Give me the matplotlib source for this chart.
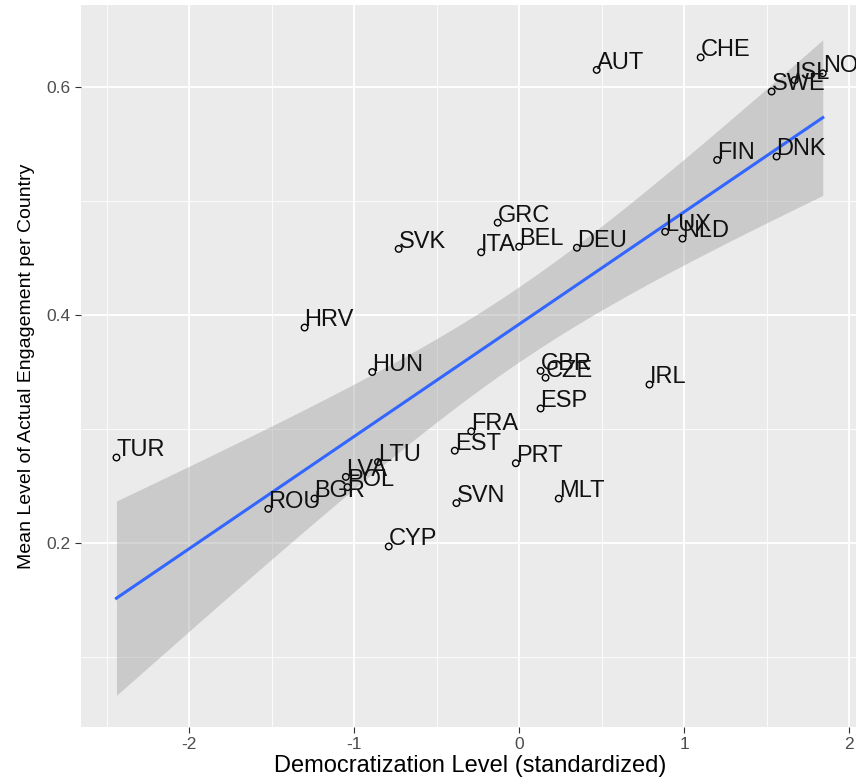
import matplotlib
matplotlib.use("Agg")
import matplotlib.pyplot as plt
import numpy as np

# country labels and values
countries = ["TUR", "ROU", "BGR", "LVA", "POL", "LTU", "HUN", "HRV", "SVK", "ITA",
             "GRC", "BEL", "DEU", "AUT", "CHE", "SWE", "ISL", "NOR", "FIN", "DNK",
             "LUX", "NLD", "GBR", "CZE", "ESP", "IRL", "FRA", "EST", "PRT", "SVN",
             "MLT", "CYP"]
democ = [-2.44, -1.52, -1.24, -1.05, -1.04, -0.855, -0.89, -1.30, -0.73, -0.23,
         -0.13, 0.00, 0.35, 0.47, 1.10, 1.53, 1.67, 1.84, 1.20, 1.56,
         0.885, 0.99, 0.13, 0.16, 0.13, 0.79, -0.29, -0.39, -0.02, -0.38,
         0.24, -0.79]
engage = [0.275, 0.230, 0.239, 0.258, 0.249, 0.271, 0.350, 0.389, 0.458, 0.455,
          0.481, 0.460, 0.459, 0.615, 0.626, 0.596, 0.606, 0.612, 0.536, 0.539,
          0.473, 0.467, 0.351, 0.345, 0.318, 0.339, 0.298, 0.281, 0.270, 0.235,
          0.239, 0.197]

T_975 = 2.042  # t quantile, df = 30

x = np.array(democ)
y = np.array(engage)

# linear fit with 95% confidence band (like geom_smooth(method="lm"))
b, a = np.polyfit(x, y, 1)
n = len(x)
resid = y - (a + b * x)
s = np.sqrt(np.sum(resid ** 2) / (n - 2))
sxx = np.sum((x - x.mean()) ** 2)
xs = np.linspace(x.min(), x.max(), 80)
fit = a + b * xs
se = s * np.sqrt(1 / n + (xs - x.mean()) ** 2 / sxx)

fig = plt.figure(figsize=(8.56, 7.79), dpi=100)
ax = fig.add_axes([0.0946, 0.0667, 0.909, 0.927])
ax.set_facecolor("#EBEBEB")

ax.fill_between(xs, fit - T_975 * se, fit + T_975 * se, color="#999999", alpha=0.4, lw=0, zorder=2)
ax.plot(xs, fit, color="#3366FF", lw=2.2, zorder=3)
ax.scatter(x, y, s=22, facecolors="none", edgecolors="black", linewidths=1, zorder=4)
for c, xi, yi in zip(countries, democ, engage):
    ax.text(xi, yi + 0.001, c, ha="left", va="baseline", fontsize=17,
            family=["Liberation Sans", "DejaVu Sans"], color="#111111", zorder=5)

ax.set_xlim(-2.655, 2.06)
ax.set_ylim(0.0386, 0.672)
ax.set_xticks([-2, -1, 0, 1, 2])
ax.set_xticklabels(["-2", "-1", "0", "1", "2"])
ax.set_yticks([0.2, 0.4, 0.6])
ax.set_yticklabels(["0.2", "0.4", "0.6"])
ax.set_xticks([-2.5, -1.5, -0.5, 0.5, 1.5], minor=True)
ax.set_yticks([0.1, 0.3, 0.5], minor=True)
ax.grid(True, which="major", color="white", lw=1.3, zorder=0)
ax.grid(True, which="minor", color="white", lw=0.6, zorder=0)
ax.set_axisbelow(True)
for sp in ax.spines.values():
    sp.set_visible(False)
ax.tick_params(which="major", length=4, color="#333333", labelcolor="#4D4D4D", labelsize=12.5)
ax.tick_params(which="minor", length=0)
for lab in ax.get_xticklabels() + ax.get_yticklabels():
    lab.set_family(["Liberation Sans", "DejaVu Sans"])

ax.set_xlabel("Democratization Level (standardized)", fontsize=17,
              family=["Liberation Sans", "DejaVu Sans"])
ax.set_ylabel("Mean Level of Actual Engagement per Country", fontsize=14,
              family=["Liberation Sans Narrow", "Liberation Sans", "DejaVu Sans"])
ax.xaxis.labelpad = 2
ax.yaxis.labelpad = 8

fig.savefig("out.png", dpi=100)
